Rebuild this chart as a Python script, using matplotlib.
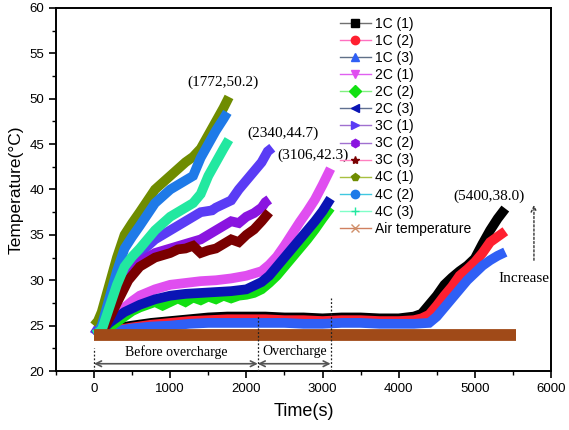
import matplotlib
matplotlib.use("Agg")
import matplotlib.pyplot as plt
from matplotlib.lines import Line2D
from matplotlib.ticker import MultipleLocator

# ---------------- data ----------------
x_1c1 = [0, 100, 200, 350, 500, 750, 1000, 1250, 1500, 1750, 2000, 2250, 2500, 2750, 3000, 3250, 3500, 3750, 4000, 4200,
         4300, 4400, 4500, 4600, 4700, 4800, 4900, 5000, 5100, 5200, 5300, 5400]
y_1c1 = [24.0, 24.3, 24.6, 24.8, 25.0, 25.3, 25.5, 25.7, 25.9, 26.0, 26.0, 26.0, 25.9, 25.9, 25.8, 25.9, 25.9, 25.8, 25.8, 26.0,
         26.3, 27.3, 28.3, 29.5, 30.3, 31.0, 31.6, 32.4, 34.0, 35.5, 36.8, 37.9]

x_1c2 = [0, 100, 200, 350, 500, 750, 1000, 1250, 1500, 1750, 2000, 2250, 2500, 2750, 3000, 3250, 3500, 3750, 4000, 4200,
         4300, 4400, 4500, 4600, 4700, 4800, 4900, 5000, 5100, 5200, 5300, 5400]
y_1c2 = [24.0, 24.2, 24.4, 24.6, 24.8, 25.1, 25.3, 25.5, 25.6, 25.7, 25.7, 25.7, 25.6, 25.6, 25.5, 25.6, 25.6, 25.5, 25.5, 25.6,
         25.8, 26.2, 27.2, 28.3, 29.3, 30.5, 31.2, 32.0, 33.0, 34.2, 34.8, 35.4]

x_1c3 = [0, 100, 200, 350, 500, 750, 1000, 1250, 1500, 1750, 2000, 2250, 2500, 2750, 3000, 3250, 3500, 3750, 4000, 4200,
         4400, 4500, 4600, 4700, 4800, 4900, 5000, 5100, 5200, 5300, 5400]
y_1c3 = [24.0, 24.1, 24.3, 24.5, 24.7, 24.9, 25.0, 25.2, 25.3, 25.3, 25.3, 25.3, 25.3, 25.2, 25.2, 25.3, 25.3, 25.2, 25.2, 25.2,
         25.3, 26.0, 27.0, 28.0, 29.0, 30.0, 30.8, 31.6, 32.2, 32.7, 33.1]

x_2c1 = [0, 100, 200, 300, 400, 500, 600, 800, 1000, 1200, 1400, 1600, 1800, 2000, 2200, 2300, 2400, 2500, 2600, 2700, 2800, 2900, 3000, 3106]
y_2c1 = [24.0, 24.6, 25.5, 26.3, 27.0, 27.7, 28.3, 29.0, 29.5, 29.7, 29.9, 30.0, 30.2, 30.5, 31.0, 31.7, 32.6, 33.8, 35.1, 36.4, 37.6, 38.9, 40.5, 42.3]

x_2c2 = [0, 100, 200, 300, 400, 500, 600, 700, 800, 900, 1000, 1100, 1200, 1300, 1400, 1500, 1600, 1700, 1800, 1900, 2000, 2100,
         2200, 2300, 2400, 2500, 2600, 2700, 2800, 2900, 3000, 3106]
y_2c2 = [24.0, 24.3, 24.8, 25.4, 26.0, 26.6, 27.0, 27.3, 27.6, 27.2, 27.6, 28.0, 27.6, 28.1, 27.8, 28.2, 27.9, 28.3, 28.0, 28.3, 28.4, 28.6,
         29.0, 29.7, 30.5, 31.5, 32.5, 33.5, 34.5, 35.6, 36.8, 38.0]

x_2c3 = [0, 100, 200, 300, 400, 500, 600, 800, 1000, 1200, 1400, 1600, 1800, 2000, 2200, 2300, 2400, 2500, 2600, 2700, 2800, 2900, 3000, 3106]
y_2c3 = [24.0, 24.5, 25.3, 25.9, 26.5, 26.9, 27.3, 27.9, 28.3, 28.5, 28.6, 28.7, 28.8, 29.0, 29.8, 30.5, 31.5, 32.5, 33.5, 34.5, 35.5, 36.5, 37.6, 39.0]

x_3c1 = [0, 75, 150, 225, 300, 450, 600, 800, 1000, 1200, 1400, 1550, 1600, 1700, 1800, 1900, 2000, 2100, 2200, 2280, 2340]
y_3c1 = [24.0, 25.0, 26.5, 28.0, 29.5, 31.5, 33.0, 34.5, 35.5, 36.5, 37.5, 37.7, 38.0, 38.4, 38.8, 40.0, 41.0, 42.0, 43.0, 44.2, 44.6]

x_3c2 = [0, 75, 150, 225, 300, 450, 600, 800, 1000, 1200, 1400, 1600, 1800, 1900, 2000, 2100, 2200, 2250, 2300]
y_3c2 = [24.0, 24.6, 25.5, 26.8, 28.0, 30.5, 32.0, 33.0, 33.5, 34.0, 34.5, 35.5, 36.5, 36.3, 37.0, 37.4, 38.0, 38.6, 38.9]

x_3c3 = [0, 75, 150, 225, 300, 450, 600, 800, 1000, 1100, 1200, 1300, 1400, 1500, 1600, 1700, 1800, 1900, 2000, 2100, 2200, 2300]
y_3c3 = [24.0, 24.4, 25.0, 26.2, 27.5, 30.0, 31.5, 32.5, 33.0, 33.4, 33.5, 33.8, 33.0, 33.3, 33.5, 34.0, 34.5, 34.2, 35.0, 35.6, 36.5, 37.5]

x_4c1 = [0, 50, 100, 200, 300, 400, 500, 600, 800, 1000, 1200, 1300, 1400, 1500, 1600, 1700, 1772]
y_4c1 = [25.0, 25.5, 26.5, 29.5, 32.5, 35.0, 36.3, 37.5, 40.0, 41.5, 43.0, 43.6, 44.5, 46.0, 47.5, 49.0, 50.2]

x_4c2 = [0, 50, 100, 200, 300, 400, 500, 600, 800, 1000, 1200, 1300, 1400, 1500, 1600, 1700, 1750]
y_4c2 = [24.0, 24.3, 25.0, 28.0, 31.0, 33.5, 34.8, 36.0, 38.5, 40.0, 41.0, 41.5, 43.5, 45.0, 46.5, 47.8, 48.5]

x_4c3 = [0, 50, 100, 200, 300, 400, 500, 600, 800, 1000, 1200, 1300, 1400, 1500, 1600, 1700, 1770]
y_4c3 = [24.0, 24.2, 24.5, 27.0, 29.5, 31.5, 32.6, 33.5, 35.5, 37.0, 38.0, 38.5, 39.5, 41.5, 43.0, 44.5, 45.5]

x_air = [0, 1000, 2000, 3000, 4000, 5000, 5540]
y_air = [24.0, 24.0, 24.0, 24.0, 24.0, 24.0, 24.0]

labels = ["1C (1)", "1C (2)", "1C (3)", "2C (1)", "2C (2)", "2C (3)",
          "3C (1)", "3C (2)", "3C (3)", "4C (1)", "4C (2)", "4C (3)", "Air temperature"]

annot_text = ["(1772,50.2)", "(2340,44.7)", "(3106,42.3)", "(5400,38.0)"]
annot_x = [1688, 2479, 2875, 5183]
annot_y = [51.8, 46.2, 43.8, 39.3]

# ---------------- styles ----------------
band_colors = ["#000000", "#ff2030", "#2f5ff5", "#e04ef0", "#12e012", "#0a14b4",
               "#5a3cf5", "#8a14e0", "#7a0000", "#6f8c00", "#1e7ae8", "#22e8a0", "#a04a18"]
leg_line_colors = ["#707070", "#ff70c0", "#607088", "#e060f0", "#80f080", "#607090",
                   "#a070d0", "#a070d0", "#ff80c0", "#a8c040", "#40c8e0", "#80ffc8", "#d08060"]
leg_markers = ["s", "o", "^", "v", "D", "<", ">", "h", "*", "p", "o", "+", "x"]
leg_mfc = ["#000000", "#ff2030", "#2f5ff5", "#e04ef0", "#12e012", "#0a14b4",
           "#5a3cf5", "#8a14e0", "#7a0000", "#6f8c00", "#1e7ae8", "#22e8a0", "#d0906a"]

series = [(x_1c1, y_1c1), (x_1c2, y_1c2), (x_1c3, y_1c3), (x_2c1, y_2c1), (x_2c2, y_2c2), (x_2c3, y_2c3),
          (x_3c1, y_3c1), (x_3c2, y_3c2), (x_3c3, y_3c3), (x_4c1, y_4c1), (x_4c2, y_4c2), (x_4c3, y_4c3),
          (x_air, y_air)]

plt.rcParams['font.family'] = ['Liberation Sans', 'DejaVu Sans']

fig = plt.figure(figsize=(5.69, 4.30), dpi=100)
ax = fig.add_axes([56/569, 1 - 371/430, (551-56)/569, (371-8)/430])

for i, (xs, ys) in enumerate(series):
    lw = 8.5 if i == 12 else 7
    ax.plot(xs, ys, color=band_colors[i], lw=lw, solid_joinstyle='miter', solid_capstyle='butt', zorder=2 + i * 0.01)

ax.set_xlim(-500, 6000)
ax.set_ylim(20, 60)
ax.xaxis.set_major_locator(MultipleLocator(1000))
ax.xaxis.set_minor_locator(MultipleLocator(500))
ax.yaxis.set_major_locator(MultipleLocator(5))
ax.yaxis.set_minor_locator(MultipleLocator(2.5))
ax.tick_params(which='major', direction='out', length=5, width=1.2, labelsize=9.5, top=False, right=False)
ax.tick_params(which='minor', direction='out', length=3, width=1.0, top=False, right=False)
for sp in ax.spines.values():
    sp.set_linewidth(1.4)

ax.set_xlabel("Time(s)", fontsize=13, labelpad=6)
ax.set_ylabel("Temperature(°C)", fontsize=12.5, labelpad=4)

# annotations
serif = ['Liberation Serif', 'DejaVu Serif']
for t, xx, yy in zip(annot_text, annot_x, annot_y):
    ax.text(xx, yy, t, ha='center', va='center', fontsize=11, family=serif)

ax.text(5644, 30.2, "Increase", ha='center', va='center', fontsize=11, family=serif)
ax.annotate("", xy=(5776, 38.6), xytext=(5776, 31.9),
            arrowprops=dict(arrowstyle='->', linestyle=(0, (1.5, 1.5)), color='#333333', lw=1.0))

# overcharge divisions
for xv, ytop in [(0, 22.5), (2150, 26.2), (3106, 28.0)]:
    ax.plot([xv, xv], [20, ytop], color='#222222', lw=0.9, linestyle=(0, (1.5, 1.5)), zorder=5)
ax.annotate("", xy=(0, 20.8), xytext=(2150, 20.8),
            arrowprops=dict(arrowstyle='<->', color='#555555', lw=1.2, shrinkA=0, shrinkB=0))
ax.annotate("", xy=(2150, 20.8), xytext=(3106, 20.8),
            arrowprops=dict(arrowstyle='<->', color='#555555', lw=1.2, shrinkA=0, shrinkB=0))
ax.text(1081, 22.1, "Before overcharge", ha='center', va='center', fontsize=10, family=serif)
ax.text(2637, 22.1, "Overcharge", ha='center', va='center', fontsize=10, family=serif)

# legend
handles = [Line2D([0], [0], color=leg_line_colors[i], lw=1.0, marker=leg_markers[i],
                  markerfacecolor=leg_mfc[i], markeredgecolor=leg_mfc[i], markersize=6)
           for i in range(len(labels))]
ax.legend(handles, labels, loc='upper left', bbox_to_anchor=((340 - 56) / 495, (371 - 17) / 363),
          frameon=False, fontsize=10, handlelength=2.2, handletextpad=0.35, labelspacing=0.22,
          borderpad=0, borderaxespad=0)

fig.savefig("out.png", dpi=100)
